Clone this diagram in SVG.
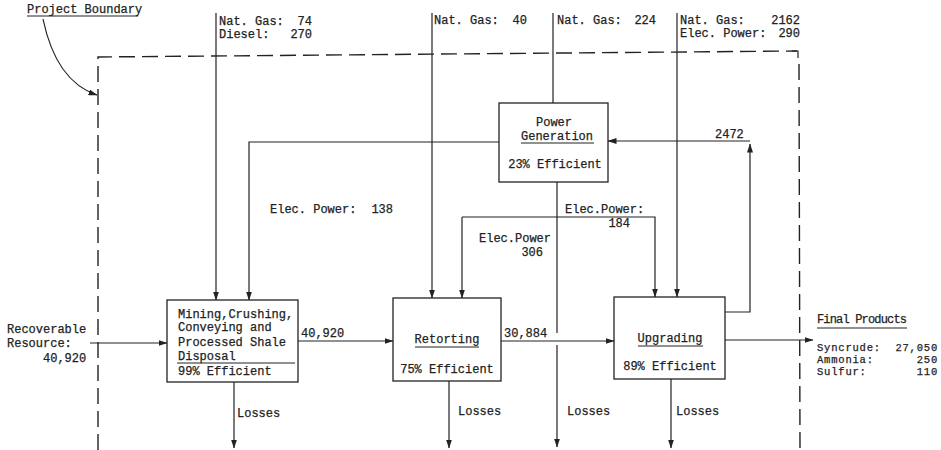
<svg xmlns="http://www.w3.org/2000/svg" width="941" height="450" viewBox="0 0 941 450">
<defs>
<marker id="ah" markerWidth="9" markerHeight="6" refX="8.5" refY="3" orient="auto" markerUnits="userSpaceOnUse">
<path d="M0,0 L9,3 L0,6 z" fill="#222"/>
</marker>
<style>
text{font-family:"Liberation Mono","DejaVu Sans Mono",monospace;font-size:12px;fill:#222;stroke:#222;stroke-width:0.25}
.c{text-anchor:middle}
.e{text-anchor:end}
.s{font-size:10.5px;letter-spacing:0.8px}
.ln{fill:none;stroke:#222;stroke-width:1.2}
.ar{fill:none;stroke:#222;stroke-width:1.2;marker-end:url(#ah)}
.box{fill:#fff;stroke:#222;stroke-width:1.3}
.dash{fill:none;stroke:#222;stroke-width:1.4;stroke-dasharray:16 7}
</style>
</defs>
<rect width="941" height="450" fill="#fff"/>

<g id="project-boundary">
<path class="dash" d="M98,450 L98,57 L797,51"/>
<path class="ln" d="M792,51 L798,51 L798,58"/>
<path class="dash" d="M799,64 L800,450"/>
<text x="27" y="13">Project Boundary</text>
<line class="ln" x1="27" y1="16" x2="138" y2="16"/>
<path class="ar" d="M43,19 C52,62 70,86 97,95"/>
</g>

<g id="connectors">
<path class="ar" d="M216,13 L216,300"/>
<path class="ar" d="M432,13 L432,298"/>
<path class="ln" d="M553,13 L553,103"/>
<path class="ar" d="M677,13 L677,297"/>
<path class="ar" d="M499,142 L249,142 L249,300"/>
<path class="ln" d="M557,182 L557,333"/>
<path class="ar" d="M557,345 L557,447"/>
<path class="ar" d="M462,217 L462,298"/>
<path class="ar" d="M462,217 L655,217 L655,297"/>
<path class="ar" d="M725,312 L750,312 L750,144"/>
<path class="ar" d="M750,141 L608,141"/>
<path class="ar" d="M90,343 L167,343"/>
<path class="ar" d="M298,341 L393,341"/>
<path class="ar" d="M501,341 L614,341"/>
<path class="ar" d="M725,340 L813,340"/>
<path class="ar" d="M234,382 L234,448"/>
<path class="ar" d="M449,381 L449,448"/>
<path class="ar" d="M671,379 L671,448"/>
</g>

<g id="input-labels">
<text x="219" y="25">Nat. Gas:</text><text class="e" x="312" y="25">74</text>
<text x="219" y="38">Diesel:</text><text class="e" x="312" y="38">270</text>
<text x="434" y="24">Nat. Gas:</text><text class="e" x="527" y="24">40</text>
<text x="557" y="24">Nat. Gas:</text><text class="e" x="656" y="24">224</text>
<text x="680" y="24">Nat. Gas:</text><text class="e" x="800" y="24">2162</text>
<text x="680" y="37">Elec. Power:</text><text class="e" x="800" y="37">290</text>
</g>

<g id="flow-labels">
<text x="270" y="213">Elec. Power:</text><text class="e" x="393" y="213">138</text>
<text x="565" y="213">Elec.Power:</text><text class="e" x="630" y="227">184</text>
<text x="479" y="242">Elec.Power</text><text class="e" x="543" y="256">306</text>
<text x="715" y="138">2472</text>
<text x="301" y="337">40,920</text>
<text x="504" y="337">30,884</text>
<text x="237" y="417">Losses</text>
<text x="458" y="415">Losses</text>
<text x="567" y="415">Losses</text>
<text x="676" y="415">Losses</text>
</g>

<g id="recoverable-resource">
<text x="7" y="333">Recoverable</text>
<text x="7" y="347">Resource:</text>
<text x="43" y="362">40,920</text>
</g>

<g id="power-generation">
<rect class="box" x="499" y="103" width="109" height="79"/>
<text class="c" x="554" y="126">Power</text>
<text class="c" x="557" y="140">Generation</text>
<line class="ln" x1="521" y1="143" x2="594" y2="143"/>
<text class="c" x="555" y="168">23% Efficient</text>
</g>

<g id="mining">
<rect class="box" x="167" y="300" width="131" height="82"/>
<text x="178" y="318">Mining,Crushing,</text>
<text x="178" y="331">Conveying and</text>
<text x="178" y="346">Processed Shale</text>
<text x="178" y="360">Disposal</text>
<line class="ln" x1="177" y1="363" x2="295" y2="363"/>
<text x="178" y="375">99% Efficient</text>
</g>

<g id="retorting">
<rect class="box" x="393" y="298" width="108" height="83"/>
<text class="c" x="447" y="343">Retorting</text>
<line class="ln" x1="415" y1="347" x2="479" y2="347"/>
<text class="c" x="447" y="373">75% Efficient</text>
</g>

<g id="upgrading">
<rect class="box" x="614" y="297" width="111" height="82"/>
<text class="c" x="670" y="342">Upgrading</text>
<line class="ln" x1="638" y1="346" x2="703" y2="346"/>
<text class="c" x="670" y="370">89% Efficient</text>
</g>

<g id="final-products">
<text x="817" y="323" textLength="90">Final Products</text>
<line class="ln" x1="817" y1="328" x2="907" y2="328"/>
<text class="s" x="817" y="351">Syncrude:</text><text class="e s" x="938" y="351">27,050</text>
<text class="s" x="817" y="363">Ammonia:</text><text class="e s" x="938" y="363">250</text>
<text class="s" x="817" y="375">Sulfur:</text><text class="e s" x="938" y="375">110</text>
</g>
</svg>
